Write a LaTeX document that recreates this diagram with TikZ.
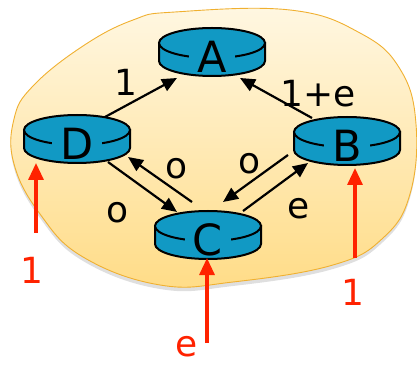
\documentclass[tikz,border=0pt]{standalone}
\usepackage{fontspec}
\setmainfont{DejaVu Sans}
\usetikzlibrary{calc,arrows.meta,shadows}
\definecolor{routerblue}{RGB}{17,153,196}
\definecolor{blobtop}{RGB}{255,247,226}
\definecolor{blobbot}{RGB}{255,220,135}
\definecolor{blobedge}{RGB}{240,176,48}
\definecolor{flowred}{RGB}{255,34,0}

\begin{document}
\begin{tikzpicture}[x=1pt,y=1pt,
    lnk/.style={line width=2.2pt,-{Triangle[length=15pt,width=13pt]}},
    ext/.style={line width=3.2pt,flowred,-{Triangle[length=17pt,width=15pt]}},
    wt/.style={font=\fontsize{36}{36}\selectfont},
    rt/.style={fill=routerblue,inner xsep=8pt,inner ysep=0pt,font=\fontsize{43}{43}\selectfont}]
  \useasboundingbox (0,0) rectangle (417,364);
  % the network region
  \draw[top color=blobtop,bottom color=blobbot,draw=blobedge,line width=.9pt,
        drop shadow={shadow xshift=0pt,shadow yshift=-4pt,opacity=.25}]
    plot[smooth cycle,tension=.7] coordinates {(175,352) (290,354) (360,331) (400,295) (416,240)
      (410,170) (383,126) (333,99) (233,82) (160,79) (83,107) (40,150) (14,200) (14,245)
      (33,278) (83,318) (133,344)};
  % routers
  \foreach \n/\x/\y in {A/212/321,D/77/234,B/347/232,C/208/138}{
    \filldraw[fill=routerblue,line width=2pt] (\x-53,\y) -- ++(0,-18)
      arc[start angle=180,end angle=360,x radius=53,y radius=15] -- ++(0,18) -- cycle;
    \filldraw[fill=routerblue,line width=2pt] (\x,\y) ellipse[x radius=53,y radius=15];
    \node[rt] (\n) at (\x,\y-14) {\n};
  }
  \draw[lnk] ($(D)+(28,27)$) -- ($(A)+(-35,-21)$);
  \draw[lnk] ($(B)+(-35,28)$) -- ($(A)+(28,-21)$);
  \draw[lnk] ($(D)+(31,-18)$) -- ($(C)+(-31,28)$);
  \draw[lnk] ($(C)+(-16,38)$) -- ($(D)+(51,-13)$);
  \draw[lnk] ($(B)+(-59,-9)$) -- ($(C)+(15,38)$);
  \draw[lnk] ($(C)+(35,29)$) -- ($(B)+(-39,-17)$);
  \node[wt] (wDA) at (126,282) {1};
  \node[wt] (wBA) at (318,270) {1+e};
  \node[wt] (wCD) at (177,195) {o};
  \node[wt] (wBC) at (250,200) {o};
  \node[wt] (wDC) at (118,151) {o};
  \node[wt] (wCB) at (299,155) {e};
  % offered load
  \node[wt,flowred] (inD) at (32,94) {1};
  \node[wt,flowred] (inB) at (353,72) {1};
  \node[wt,flowred] (inC) at (187,17) {e};
  \coordinate (tD) at (36,131);
  \coordinate (tB) at (355,106);
  \coordinate (tC) at (207,21);
  \draw[ext] (tD) -- ($(D)+(-41,-19)$);
  \draw[ext] (tB) -- ($(B)+(8,-22)$);
  \draw[ext] (tC) -- ($(C)+(-1,-18)$);
\end{tikzpicture}
\end{document}
